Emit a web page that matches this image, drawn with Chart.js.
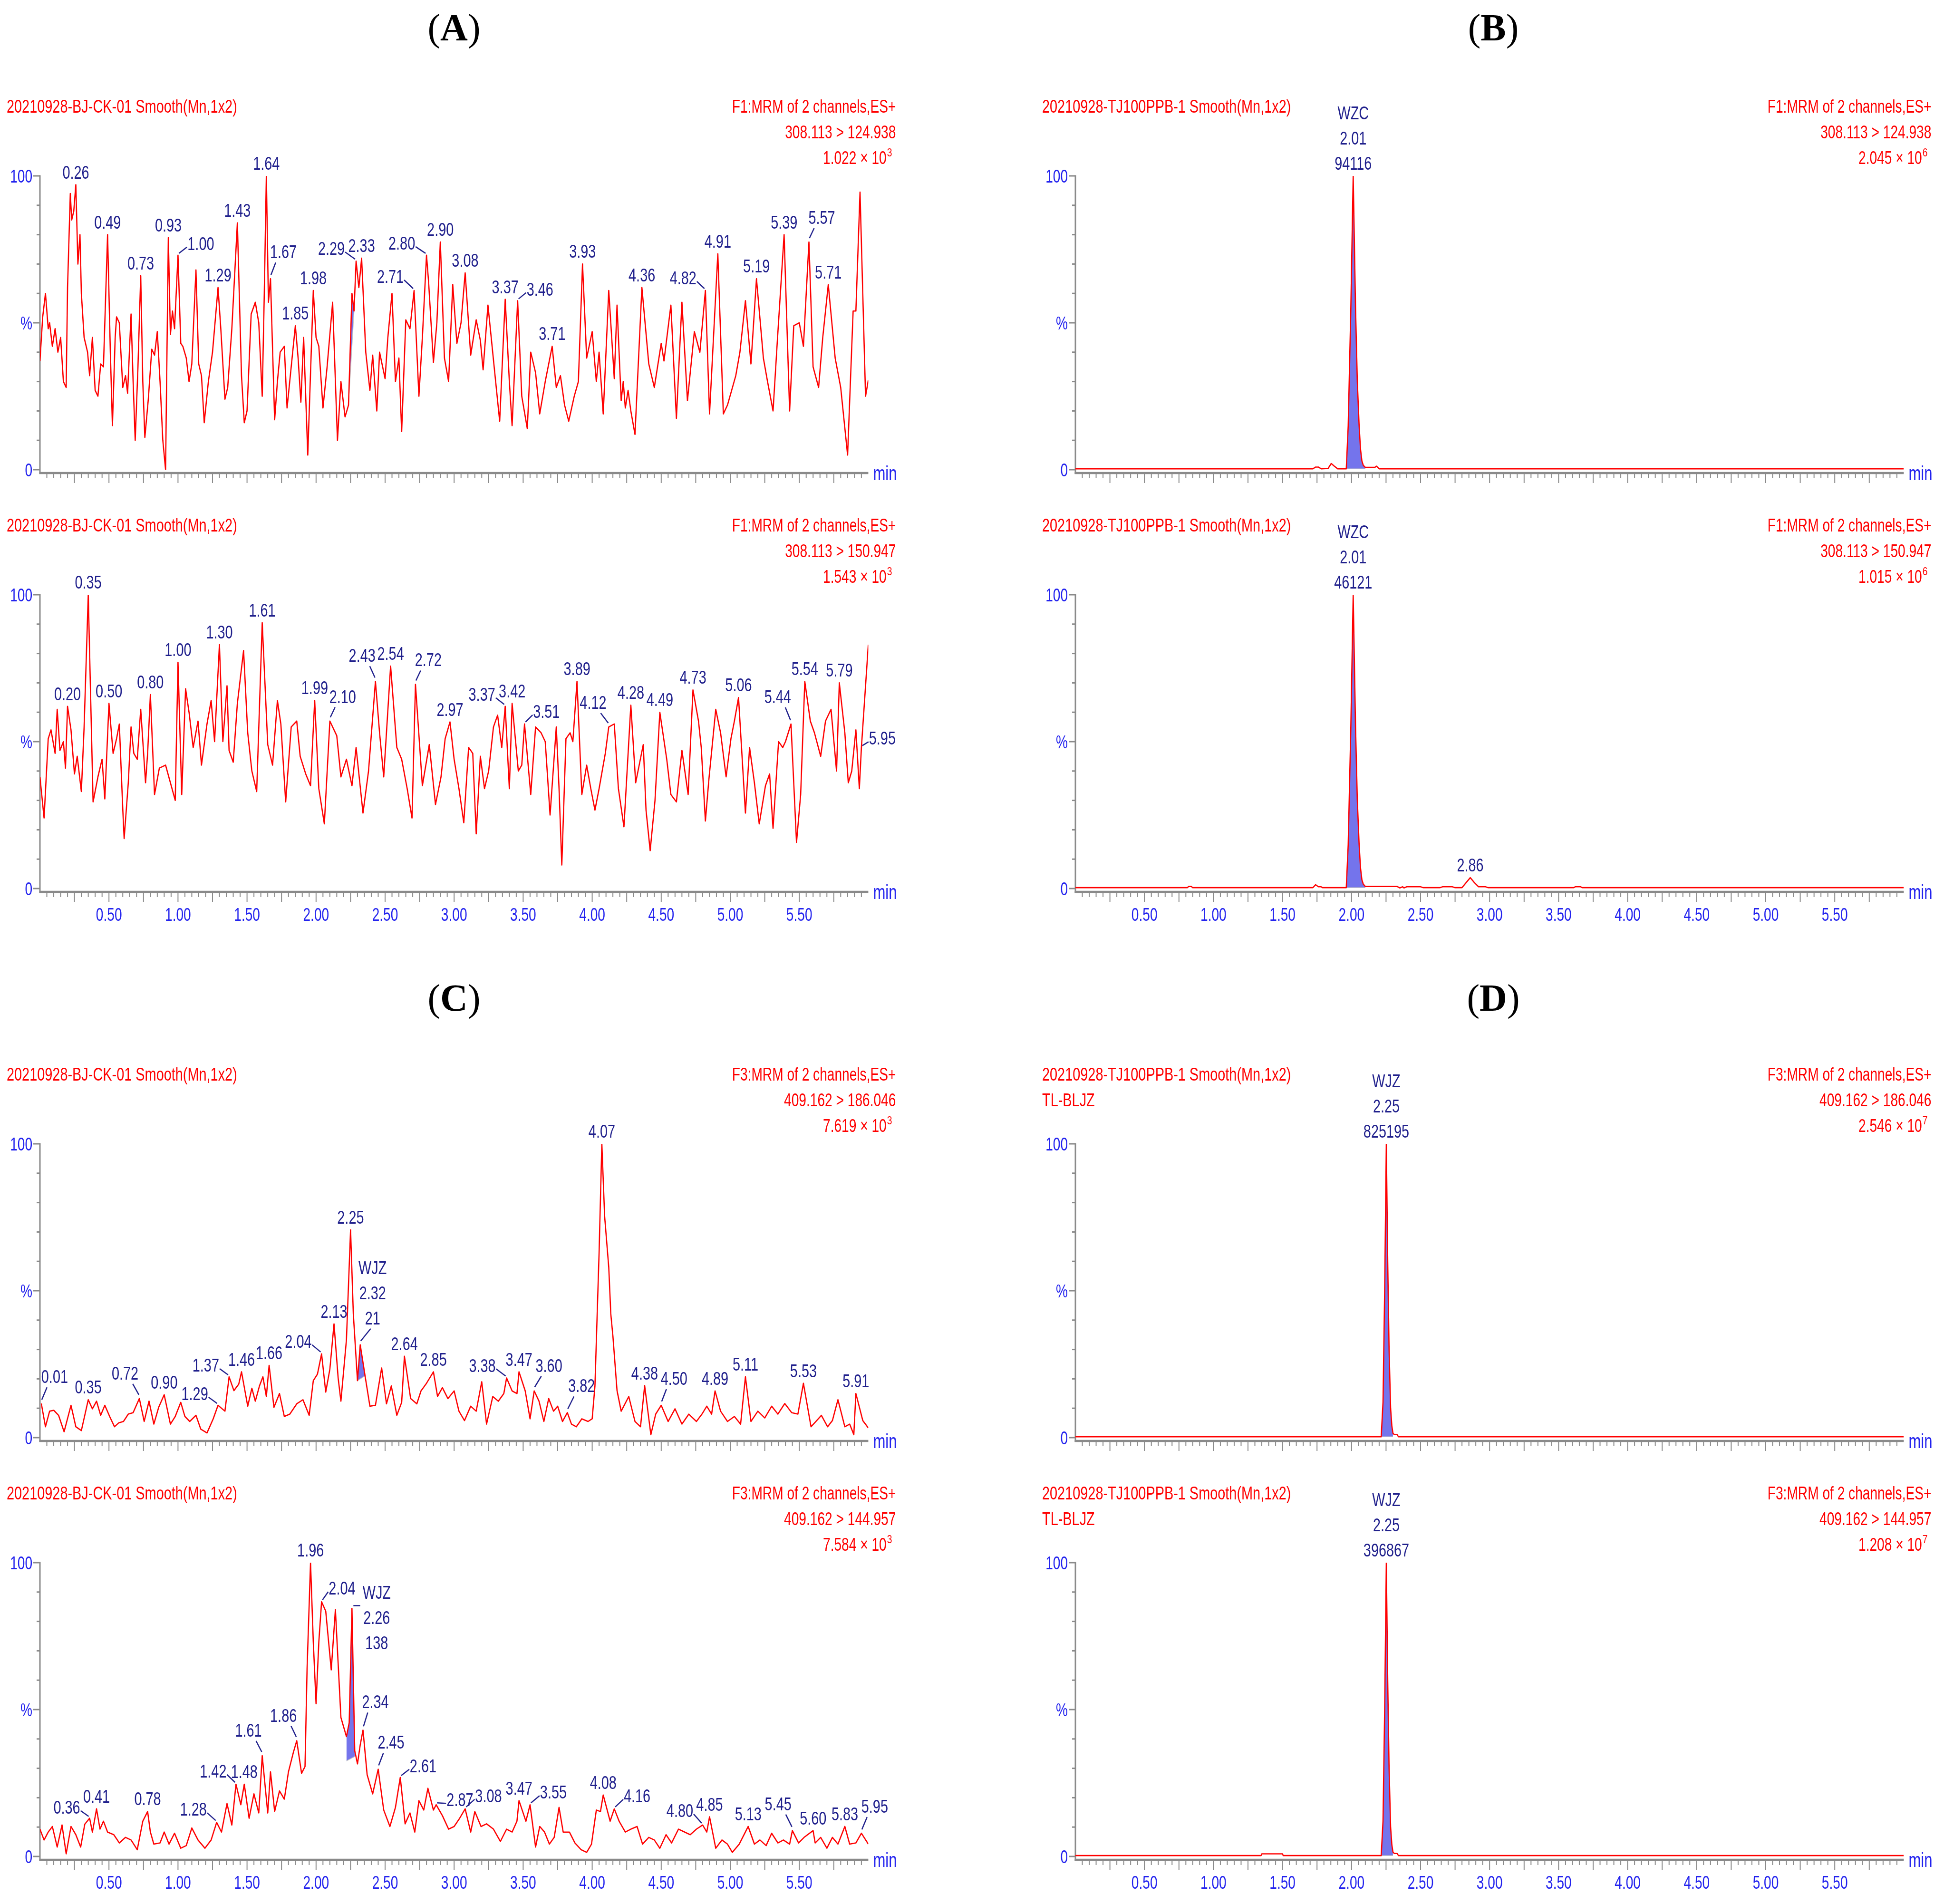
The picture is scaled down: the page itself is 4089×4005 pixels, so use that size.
<!DOCTYPE html>
<html>
<head>
<meta charset="utf-8">
<title>MRM chromatograms</title>
<style>
  html, body { margin: 0; padding: 0; background: #fff; }
  #page { position: relative; width: 4089px; height: 4005px; overflow: hidden; background: #fff; }
  #page canvas { position: absolute; }
  .ttl { position: absolute; width: 300px; text-align: center; font-family: 'Liberation Serif', 'Times New Roman', serif; font-size: 80px; line-height: 80px; color: #000; }
</style>
<script src="https://cdn.jsdelivr.net/npm/chart.js@4.4.1/dist/chart.umd.min.js"></script>
</head>
<body>
<div id="page">
  <div class="ttl" style="left:805px;top:18px">(<b>A</b>)</div>
  <div class="ttl" style="left:2991px;top:18px">(<b>B</b>)</div>
  <div class="ttl" style="left:805px;top:2059px">(<b>C</b>)</div>
  <div class="ttl" style="left:2991px;top:2059px">(<b>D</b>)</div>
</div>
<script>
'use strict'

// ---- data: [time (min), intensity (%)] ----
const a1Trace = [
  [0, 37], [0.02, 52], [0.04, 60], [0.06, 48], [0.07, 50], [0.09, 42], [0.11, 48], [0.13, 40], [0.15, 45], [0.17, 30],
  [0.19, 28], [0.2, 62], [0.22, 94], [0.23, 85], [0.245, 88], [0.26, 97], [0.275, 70], [0.29, 80], [0.3, 60], [0.32, 45],
  [0.345, 40], [0.36, 32], [0.38, 45], [0.4, 27], [0.42, 25], [0.44, 36], [0.46, 35], [0.49, 80], [0.51, 40], [0.525, 15],
  [0.545, 45], [0.555, 52], [0.575, 50], [0.6, 28], [0.62, 32], [0.635, 26], [0.66, 53], [0.675, 30], [0.69, 10], [0.71, 35],
  [0.73, 66], [0.745, 30], [0.76, 11], [0.785, 24], [0.81, 41], [0.83, 39], [0.85, 47], [0.87, 30], [0.89, 10], [0.91, 0],
  [0.93, 79], [0.945, 46], [0.96, 54], [0.975, 48], [1.0, 73], [1.02, 43], [1.035, 42], [1.06, 38], [1.08, 30], [1.1, 36],
  [1.13, 68], [1.15, 36], [1.17, 32], [1.19, 16], [1.22, 30], [1.25, 40], [1.29, 62], [1.31, 48], [1.34, 24], [1.36, 28],
  [1.39, 48], [1.43, 84], [1.46, 32], [1.48, 16], [1.5, 20], [1.53, 53], [1.56, 57], [1.585, 50], [1.61, 25], [1.625, 60],
  [1.64, 100], [1.655, 57], [1.67, 65], [1.7, 17], [1.72, 30], [1.74, 40], [1.77, 42], [1.79, 21], [1.82, 35], [1.85, 49],
  [1.87, 38], [1.89, 23], [1.91, 45], [1.94, 5], [1.98, 61], [2.0, 45], [2.02, 42], [2.05, 21], [2.08, 35], [2.12, 57],
  [2.155, 10], [2.18, 30], [2.21, 18], [2.235, 22], [2.26, 60], [2.275, 54], [2.29, 71], [2.31, 62], [2.33, 72], [2.36, 40],
  [2.39, 27], [2.41, 39], [2.44, 20], [2.46, 40], [2.5, 31], [2.52, 45], [2.55, 60], [2.575, 30], [2.6, 38], [2.62, 13],
  [2.65, 51], [2.68, 48], [2.71, 61], [2.745, 25], [2.77, 45], [2.8, 73], [2.815, 64], [2.85, 36.5], [2.875, 50], [2.9, 77.5],
  [2.93, 38], [2.96, 30], [2.99, 63], [3.02, 43], [3.05, 50], [3.08, 67], [3.12, 39], [3.16, 51], [3.19, 44], [3.21, 34],
  [3.245, 56], [3.29, 35], [3.33, 16.5], [3.37, 58], [3.4, 30], [3.42, 15], [3.46, 57.5], [3.49, 25], [3.53, 14], [3.555, 40],
  [3.59, 33], [3.62, 19], [3.66, 30], [3.71, 42], [3.74, 28], [3.77, 32], [3.8, 22], [3.83, 16.5], [3.87, 25], [3.9, 30],
  [3.93, 70], [3.96, 38], [4.0, 47], [4.03, 30], [4.05, 40], [4.08, 19], [4.12, 61], [4.16, 31], [4.18, 56], [4.21, 23.5],
  [4.225, 30], [4.24, 21], [4.26, 27], [4.28, 20], [4.31, 12], [4.36, 62], [4.41, 36], [4.45, 28], [4.5, 43], [4.52, 37],
  [4.57, 56], [4.61, 17.5], [4.65, 57], [4.69, 23.5], [4.74, 47], [4.78, 40], [4.82, 61], [4.85, 19], [4.91, 73.5], [4.95, 19],
  [4.98, 22], [5.04, 32], [5.07, 40], [5.11, 57.5], [5.15, 36], [5.19, 65], [5.24, 38], [5.27, 30], [5.31, 20], [5.34, 43],
  [5.39, 80], [5.43, 20], [5.46, 49], [5.5, 50], [5.53, 42], [5.57, 77.5], [5.6, 35], [5.64, 28], [5.67, 45], [5.71, 63],
  [5.76, 38], [5.8, 28], [5.85, 5], [5.89, 54], [5.91, 54], [5.94, 94.5], [5.98, 25], [6.0, 30.5]
]
const a2Trace = [
  [0, 38], [0.03, 24], [0.06, 51], [0.08, 54], [0.11, 46], [0.125, 61], [0.145, 47], [0.17, 50], [0.185, 41], [0.2, 62],
  [0.225, 54], [0.25, 39], [0.27, 45], [0.3, 33], [0.32, 55], [0.35, 100], [0.385, 29.5], [0.42, 38], [0.45, 44], [0.47, 30.5],
  [0.5, 63], [0.53, 46], [0.555, 51], [0.575, 56], [0.6, 27], [0.61, 17], [0.64, 36], [0.66, 55], [0.68, 46], [0.705, 44],
  [0.73, 61], [0.765, 36], [0.78, 46], [0.8, 66], [0.83, 32], [0.865, 41], [0.91, 42], [0.98, 30], [1.0, 77], [1.027, 32],
  [1.055, 68], [1.08, 60], [1.11, 48], [1.145, 57], [1.17, 42], [1.21, 56], [1.24, 64], [1.265, 50], [1.3, 83], [1.325, 50],
  [1.355, 69], [1.37, 47], [1.4, 43], [1.43, 63], [1.475, 81], [1.505, 53], [1.535, 40], [1.57, 33], [1.61, 90.5], [1.65, 49],
  [1.685, 42], [1.72, 64], [1.745, 56], [1.78, 29.5], [1.82, 55], [1.86, 57], [1.885, 45], [1.925, 39], [1.96, 35], [1.99, 64],
  [2.02, 34], [2.06, 22], [2.1, 57], [2.15, 52], [2.18, 38], [2.22, 44], [2.26, 35], [2.29, 48], [2.34, 25.7], [2.38, 40],
  [2.43, 70.5], [2.46, 53], [2.49, 38], [2.54, 75.7], [2.585, 48], [2.62, 44], [2.66, 34], [2.695, 24], [2.72, 69.5], [2.77, 35],
  [2.82, 49], [2.865, 28.6], [2.905, 38], [2.935, 51], [2.97, 56.7], [3.0, 44], [3.035, 34], [3.07, 22.4], [3.105, 48], [3.135, 46],
  [3.16, 18.6], [3.19, 45], [3.22, 34], [3.25, 40], [3.285, 55], [3.315, 59], [3.345, 48], [3.37, 62], [3.4, 34], [3.42, 63],
  [3.465, 40], [3.49, 42], [3.51, 56], [3.555, 32], [3.59, 55], [3.63, 53], [3.66, 50], [3.695, 25], [3.74, 55], [3.76, 34],
  [3.78, 8], [3.81, 51], [3.84, 53], [3.86, 50], [3.89, 70.5], [3.925, 32], [3.96, 42], [3.99, 34], [4.02, 26.7], [4.05, 34],
  [4.095, 46], [4.12, 55], [4.16, 56], [4.19, 34], [4.23, 21], [4.28, 62.4], [4.315, 36], [4.37, 49], [4.39, 26.7], [4.42, 12.9],
  [4.455, 30], [4.49, 60], [4.54, 44], [4.57, 32], [4.61, 29.5], [4.65, 47], [4.695, 32], [4.73, 67.6], [4.77, 57], [4.79, 48],
  [4.82, 23], [4.845, 37], [4.895, 61], [4.93, 53], [4.97, 38], [5.005, 51], [5.03, 57], [5.06, 65], [5.11, 25.7], [5.14, 48],
  [5.175, 36], [5.21, 22], [5.255, 35], [5.285, 39], [5.31, 20.5], [5.35, 50], [5.38, 48], [5.4, 50], [5.44, 56], [5.48, 15.7],
  [5.51, 32], [5.54, 70.5], [5.58, 57], [5.61, 53], [5.655, 45], [5.69, 57], [5.73, 61], [5.77, 40], [5.79, 70], [5.83, 53],
  [5.855, 36], [5.88, 40], [5.91, 54], [5.935, 34], [5.95, 48], [6.0, 83]
]
const b1Trace = [
  [0, 0.3], [1.72, 0.3], [1.74, 0.9], [1.76, 0.9], [1.78, 0.3], [1.83, 0.4], [1.853, 2.1], [1.875, 1.2], [1.9, 0.3],
  [1.962, 0.3], [1.976, 15], [1.995, 55], [2.012, 100], [2.029, 55], [2.042, 30], [2.055, 15], [2.065, 7], [2.075, 3],
  [2.085, 1.5], [2.1, 0.8], [2.17, 0.8], [2.18, 1.2], [2.19, 0.8], [2.2, 0.3], [6.0, 0.3]
]
const b2Trace = [
  [0, 0.3], [0.81, 0.3], [0.82, 0.7], [0.84, 0.7], [0.85, 0.3], [1.72, 0.3], [1.74, 1.3], [1.76, 0.6], [1.78, 0.6], [1.79, 0.3],
  [1.962, 0.3], [1.976, 15], [1.995, 55], [2.012, 100], [2.029, 55], [2.042, 30], [2.055, 15], [2.065, 7], [2.075, 3],
  [2.085, 1.5], [2.1, 0.7], [2.33, 0.7], [2.35, 0.2], [2.37, 0.6], [2.38, 0.2], [2.4, 0.6], [2.5, 0.6], [2.52, 0.3],
  [2.64, 0.3], [2.66, 0.6], [2.73, 0.6], [2.75, 0.3], [2.8, 0.3], [2.83, 2], [2.86, 3.7], [2.89, 2], [2.92, 0.6], [2.97, 0.6],
  [2.99, 0.3], [3.61, 0.3], [3.62, 0.6], [3.66, 0.6], [3.67, 0.3], [6.0, 0.3]
]
const c1Trace = [
  [0.01, 11.6], [0.04, 3.7], [0.07, 9], [0.1, 9.3], [0.135, 7.6], [0.175, 2], [0.225, 11], [0.26, 3.7], [0.3, 2.4], [0.35, 12.9],
  [0.38, 9.8], [0.41, 12.4], [0.44, 7.6], [0.47, 11], [0.505, 7.2], [0.54, 3.7], [0.57, 5], [0.605, 5.5], [0.64, 8], [0.675, 8.5],
  [0.72, 13.3], [0.755, 5.5], [0.79, 12.4], [0.825, 4.6], [0.86, 10.3], [0.9, 14.6], [0.945, 4.6], [0.98, 7.2], [1.02, 12], [1.05, 7.2],
  [1.085, 5.5], [1.13, 7.6], [1.165, 2.9], [1.21, 1.6], [1.255, 6.4], [1.29, 11], [1.34, 9], [1.37, 20.7], [1.405, 16], [1.44, 18.2],
  [1.46, 22.4], [1.505, 10.7], [1.535, 16.8], [1.56, 12.4], [1.59, 17.6], [1.615, 20.7], [1.64, 14], [1.66, 24.6], [1.695, 10.3], [1.735, 15],
  [1.77, 7.2], [1.81, 8], [1.86, 11.5], [1.905, 12.9], [1.95, 7.6], [1.98, 19.4], [2.01, 21.6], [2.04, 28.5], [2.07, 15.5], [2.1, 23.3],
  [2.13, 38.7], [2.16, 20.3], [2.18, 12.4], [2.22, 33.3], [2.25, 70.7], [2.27, 42], [2.3, 19.4], [2.32, 31.6], [2.355, 21], [2.39, 10.7],
  [2.43, 11], [2.475, 23.7], [2.51, 11.5], [2.545, 17.6], [2.585, 7.6], [2.62, 12], [2.64, 27.7], [2.685, 13.3], [2.73, 11.5], [2.76, 15.9],
  [2.8, 18.5], [2.85, 22.4], [2.88, 14], [2.915, 17], [2.955, 13.3], [3.0, 15.9], [3.035, 9], [3.075, 5.8], [3.12, 10.7], [3.16, 9],
  [3.2, 19], [3.235, 4.6], [3.28, 14], [3.32, 12.4], [3.36, 15], [3.38, 20.3], [3.42, 15.9], [3.455, 15], [3.47, 22.4], [3.515, 15.9],
  [3.55, 6.4], [3.58, 15.9], [3.615, 12.4], [3.65, 5.5], [3.685, 13.3], [3.72, 9], [3.75, 10.7], [3.785, 5.5], [3.82, 8.5], [3.85, 4.6],
  [3.885, 3.7], [3.925, 6.4], [3.97, 5.5], [4.0, 6.4], [4.02, 17.6], [4.05, 62.9], [4.07, 100], [4.09, 75.4], [4.12, 58], [4.135, 42],
  [4.15, 34.6], [4.18, 16], [4.21, 9], [4.265, 14], [4.31, 5.5], [4.35, 3.7], [4.38, 17.7], [4.425, 1], [4.46, 8], [4.5, 11],
  [4.55, 5.5], [4.6, 9.8], [4.65, 4.6], [4.7, 8], [4.755, 5.5], [4.795, 8], [4.83, 10.7], [4.865, 8], [4.89, 15.9], [4.93, 9],
  [4.98, 5.5], [5.03, 7.2], [5.075, 4.6], [5.11, 20.7], [5.15, 5.5], [5.2, 9], [5.25, 6.7], [5.3, 10.7], [5.345, 8], [5.395, 11.6],
  [5.445, 8.5], [5.49, 8], [5.53, 18.5], [5.585, 3.7], [5.62, 5.5], [5.66, 7.6], [5.705, 3.7], [5.74, 5.8], [5.78, 12.9], [5.83, 3.7],
  [5.865, 4.6], [5.895, 1], [5.91, 15], [5.96, 5.8], [6.0, 3.3]
]
const c2Trace = [
  [0, 9.3], [0.03, 5.6], [0.06, 8.3], [0.09, 10.2], [0.125, 3.2], [0.16, 10.7], [0.19, 0.9], [0.225, 10.2], [0.26, 7.4], [0.295, 3.2],
  [0.325, 11], [0.36, 13], [0.38, 8.3], [0.41, 16.2], [0.435, 9.3], [0.46, 12], [0.49, 8.3], [0.535, 7.4], [0.575, 4.6], [0.62, 6.5],
  [0.66, 5.6], [0.705, 2.3], [0.745, 12], [0.78, 15.3], [0.8, 8.3], [0.825, 4.2], [0.87, 4.6], [0.9, 8.3], [0.935, 4.2], [0.975, 7.9],
  [1.02, 2.8], [1.06, 3.7], [1.1, 9.7], [1.145, 5.6], [1.195, 2.8], [1.24, 5.6], [1.28, 11.6], [1.315, 8.3], [1.355, 18], [1.39, 10.7],
  [1.42, 24.6], [1.455, 17.6], [1.48, 24.6], [1.515, 13], [1.55, 21.3], [1.585, 14.8], [1.61, 34.3], [1.65, 14.8], [1.67, 28.8], [1.7, 15.3],
  [1.735, 22.3], [1.77, 19.5], [1.8, 28.8], [1.835, 35.3], [1.86, 39.4], [1.895, 28.3], [1.92, 30.6], [1.935, 64], [1.96, 100], [1.98, 73],
  [2.0, 52], [2.02, 73], [2.04, 86.7], [2.07, 83.5], [2.11, 63.5], [2.14, 84], [2.18, 47.3], [2.22, 40.8], [2.24, 45.5], [2.26, 84.4],
  [2.28, 36], [2.3, 31.5], [2.32, 38], [2.34, 43], [2.37, 27.8], [2.41, 21.3], [2.45, 29.7], [2.49, 15.8], [2.535, 10.2], [2.575, 16.7],
  [2.61, 26.9], [2.645, 11.1], [2.68, 14.8], [2.715, 8.3], [2.745, 19], [2.78, 15.8], [2.81, 23.2], [2.85, 15.8], [2.87, 17.6], [2.915, 13.9],
  [2.96, 9.3], [3.0, 10.2], [3.04, 13], [3.08, 16.2], [3.12, 8.3], [3.15, 15.3], [3.195, 10.2], [3.235, 11.1], [3.285, 9.3], [3.335, 5.1],
  [3.38, 9.3], [3.42, 8.3], [3.455, 12], [3.47, 19], [3.52, 12], [3.55, 17.6], [3.59, 3.2], [3.62, 10.2], [3.655, 8.3], [3.69, 4.2],
  [3.725, 6.5], [3.76, 16.7], [3.79, 8.3], [3.835, 8.3], [3.875, 4.6], [3.92, 2.3], [3.96, 1.4], [3.995, 4.2], [4.03, 15.8], [4.06, 15.3],
  [4.08, 20.9], [4.13, 12], [4.16, 16.2], [4.195, 12], [4.24, 8.3], [4.28, 9.3], [4.325, 10.2], [4.365, 4.2], [4.41, 6.5], [4.45, 5.6],
  [4.49, 2.8], [4.535, 7.4], [4.575, 4.6], [4.625, 9.3], [4.67, 8.3], [4.71, 7.4], [4.755, 9.3], [4.8, 10.7], [4.83, 8.3], [4.85, 13.5],
  [4.895, 2.8], [4.94, 5.6], [4.98, 4.2], [5.015, 1.4], [5.065, 4.2], [5.13, 10.2], [5.175, 4.2], [5.215, 5.6], [5.26, 3.7], [5.3, 7.9],
  [5.345, 4.6], [5.385, 5.6], [5.43, 4.2], [5.45, 8.8], [5.495, 4.6], [5.535, 6.5], [5.6, 8.8], [5.615, 4.6], [5.655, 6.5], [5.7, 2.8],
  [5.74, 6.5], [5.78, 4.2], [5.83, 10.2], [5.865, 4.2], [5.91, 4.6], [5.95, 7.9], [6.0, 4.2]
]
const d1Trace = [
  [0, 0.3], [2.215, 0.3], [2.228, 12], [2.24, 50], [2.252, 100], [2.262, 60], [2.272, 30], [2.283, 10], [2.292, 4],
  [2.3, 1.5], [2.31, 1], [2.33, 1], [2.34, 0.3], [6.0, 0.3]
]
const d2Trace = [
  [0, 0.3], [1.345, 0.3], [1.35, 0.9], [1.5, 0.9], [1.505, 0.3], [2.215, 0.3], [2.228, 12], [2.24, 50], [2.252, 100],
  [2.262, 60], [2.272, 30], [2.283, 10], [2.292, 4], [2.3, 1.5], [2.31, 1], [2.33, 1], [2.34, 0.3], [6.0, 0.3]
]

// integrated areas: [start, end, baseline at start, baseline at end]
const a1Area = [2.235, 2.275, 22, 54]
const b1Area = [1.962, 2.1, 0.3, 0.3]
const b2Area = [1.962, 2.1, 0.3, 0.3]
const c1Area = [2.3, 2.355, 19.4, 21]
const c2Area = [2.22, 2.28, 32.5, 34]
const d1Area = [2.215, 2.3, 0.3, 0.3]
const d2Area = [2.215, 2.3, 0.3, 0.3]

// peak annotations: [retention time, text ('|' separates stacked lines)]
const a1Peaks = [
  [0.26, '0.26'], [0.49, '0.49'], [0.73, '0.73'], [0.93, '0.93'], [1.0, '1.00'], [1.29, '1.29'], [1.43, '1.43'],
  [1.64, '1.64'], [1.67, '1.67'], [1.85, '1.85'], [1.98, '1.98'], [2.29, '2.29'], [2.33, '2.33'], [2.71, '2.71'],
  [2.8, '2.80'], [2.9, '2.90'], [3.08, '3.08'], [3.37, '3.37'], [3.46, '3.46'], [3.71, '3.71'], [3.93, '3.93'],
  [4.36, '4.36'], [4.82, '4.82'], [4.91, '4.91'], [5.19, '5.19'], [5.39, '5.39'], [5.57, '5.57'], [5.71, '5.71']
]
const a2Peaks = [
  [0.2, '0.20'], [0.35, '0.35'], [0.5, '0.50'], [0.8, '0.80'], [1.0, '1.00'], [1.3, '1.30'], [1.61, '1.61'],
  [1.99, '1.99'], [2.1, '2.10'], [2.43, '2.43'], [2.54, '2.54'], [2.72, '2.72'], [2.97, '2.97'], [3.37, '3.37'],
  [3.42, '3.42'], [3.51, '3.51'], [3.89, '3.89'], [4.12, '4.12'], [4.28, '4.28'], [4.49, '4.49'], [4.73, '4.73'],
  [5.06, '5.06'], [5.44, '5.44'], [5.54, '5.54'], [5.79, '5.79'], [5.95, '5.95']
]
const b1Peaks = [[2.01, 'WZC|2.01|94116']]
const b2Peaks = [[2.01, 'WZC|2.01|46121'], [2.86, '2.86']]
const c1Peaks = [
  [0.01, '0.01'], [0.35, '0.35'], [0.72, '0.72'], [0.9, '0.90'], [1.29, '1.29'], [1.37, '1.37'], [1.46, '1.46'],
  [1.66, '1.66'], [2.04, '2.04'], [2.13, '2.13'], [2.25, '2.25'], [2.32, 'WJZ|2.32|21'], [2.64, '2.64'], [2.85, '2.85'],
  [3.38, '3.38'], [3.47, '3.47'], [3.6, '3.60'], [3.82, '3.82'], [4.07, '4.07'], [4.38, '4.38'], [4.5, '4.50'],
  [4.89, '4.89'], [5.11, '5.11'], [5.53, '5.53'], [5.91, '5.91']
]
const c2Peaks = [
  [0.36, '0.36'], [0.41, '0.41'], [0.78, '0.78'], [1.28, '1.28'], [1.42, '1.42'], [1.48, '1.48'], [1.61, '1.61'],
  [1.86, '1.86'], [1.96, '1.96'], [2.04, '2.04'], [2.26, 'WJZ|2.26|138'], [2.34, '2.34'], [2.45, '2.45'], [2.61, '2.61'],
  [2.87, '2.87'], [3.08, '3.08'], [3.47, '3.47'], [3.55, '3.55'], [4.08, '4.08'], [4.16, '4.16'], [4.8, '4.80'],
  [4.85, '4.85'], [5.13, '5.13'], [5.45, '5.45'], [5.6, '5.60'], [5.83, '5.83'], [5.95, '5.95']
]
const d1Peaks = [[2.25, 'WJZ|2.25|825195']]
const d2Peaks = [[2.25, 'WJZ|2.25|396867']]

const xTickLabels = ['0.50', '1.00', '1.50', '2.00', '2.50', '3.00', '3.50', '4.00', '4.50', '5.00', '5.50']

// label placement: [dx px, gap above apex px, mode]
const a1Nudge = { '1.00': [48, 11], '1.67': [27, 43], '2.29': [-52, 13], '2.71': [-50, 16], '2.80': [-52, 12], '3.46': [47, 11], '4.82': [-47, 13], '5.57': [27, 38] }
const a2Nudge = { '2.10': [27, 38], '2.43': [-28, 41], '2.72': [27, 38], '3.37': [-49, 12], '3.51': [46, 13], '4.12': [-33, 38], '5.44': [-28, 44], '5.95': [44, 6] }
const c1Nudge = { '0.01': [28, 43], '0.72': [-30, 40], '1.29': [-49, 11], '1.37': [-49, 11], '2.04': [-49, 13], 'WJZ|2.32|21': [26, 43], '3.38': [-51, 13], '3.60': [31, 40], '3.82': [30, 43], '4.50': [27, 43] }
const c2Nudge = {
  '0.36': [-48, 10], '1.28': [-49, 14], '1.42': [-48, 14], '1.61': [-29, 40], '1.86': [-28, 40], '2.04': [43, 15],
  'WJZ|2.26|138': [52, 20, 'down'], '2.34': [26, 46], '2.45': [27, 43], '2.61': [48, 11], '2.87': [50, -3], '3.08': [49, 14],
  '3.55': [49, 13], '4.16': [48, 14], '4.80': [-48, 17], '5.45': [-30, 43], '5.95': [28, 43]
}

const hdrBJ = '20210928-BJ-CK-01 Smooth(Mn,1x2)'
const hdrTJ = '20210928-TJ100PPB-1 Smooth(Mn,1x2)'

const panels = [
  { id: 'a1', left: 0, top: 200, trace: a1Trace, area: a1Area, peaks: a1Peaks, nudge: a1Nudge, head: [hdrBJ], right: ['F1:MRM of 2 channels,ES+', '308.113 > 124.938'], scale: ['1.022', '3'], xLabels: false },
  { id: 'a2', left: 0, top: 1081, trace: a2Trace, area: null, peaks: a2Peaks, nudge: a2Nudge, head: [hdrBJ], right: ['F1:MRM of 2 channels,ES+', '308.113 > 150.947'], scale: ['1.543', '3'], xLabels: true },
  { id: 'b1', left: 2178, top: 200, trace: b1Trace, area: b1Area, peaks: b1Peaks, nudge: {}, head: [hdrTJ], right: ['F1:MRM of 2 channels,ES+', '308.113 > 124.938'], scale: ['2.045', '6'], xLabels: false },
  { id: 'b2', left: 2178, top: 1081, trace: b2Trace, area: b2Area, peaks: b2Peaks, nudge: {}, head: [hdrTJ], right: ['F1:MRM of 2 channels,ES+', '308.113 > 150.947'], scale: ['1.015', '6'], xLabels: true },
  { id: 'c1', left: 0, top: 2236, trace: c1Trace, area: c1Area, peaks: c1Peaks, nudge: c1Nudge, head: [hdrBJ], right: ['F3:MRM of 2 channels,ES+', '409.162 > 186.046'], scale: ['7.619', '3'], xLabels: false },
  { id: 'c2', left: 0, top: 3117, trace: c2Trace, area: c2Area, peaks: c2Peaks, nudge: c2Nudge, head: [hdrBJ], right: ['F3:MRM of 2 channels,ES+', '409.162 > 144.957'], scale: ['7.584', '3'], xLabels: true },
  { id: 'd1', left: 2178, top: 2236, trace: d1Trace, area: d1Area, peaks: d1Peaks, nudge: {}, head: [hdrTJ, 'TL-BLJZ'], right: ['F3:MRM of 2 channels,ES+', '409.162 > 186.046'], scale: ['2.546', '7'], xLabels: false },
  { id: 'd2', left: 2178, top: 3117, trace: d2Trace, area: d2Area, peaks: d2Peaks, nudge: {}, head: [hdrTJ, 'TL-BLJZ'], right: ['F3:MRM of 2 channels,ES+', '409.162 > 144.957'], scale: ['1.208', '7'], xLabels: true }
]

const RED = '#ff0000'
const NAVY = '#20208c'
const BLUE = '#2323ee'
const GRAY = '#8a8a8a'
const AREA = '#7474ec'
const FONT = '"Liberation Sans", Arial, sans-serif'
const LINE_H = 53

const CW = 1960
const CH = 880
const PAD = { left: 84, right: 133.6, top: 170, bottom: 92 }

const panelById = {}

function textW(ctx, s, size, sx) {
  ctx.save()
  ctx.font = size + 'px ' + FONT
  const w = ctx.measureText(s).width * sx
  ctx.restore()
  return w
}

// draws horizontally condensed text, like the instrument software output
function text(ctx, s, x, y, size, color, align, sx) {
  const w = textW(ctx, s, size, sx)
  const left = align === 'right' ? x - w : align === 'center' ? x - w / 2 : x
  ctx.save()
  ctx.font = size + 'px ' + FONT
  ctx.fillStyle = color
  ctx.textAlign = 'left'
  ctx.textBaseline = 'alphabetic'
  ctx.translate(left, y)
  ctx.scale(sx, 1)
  ctx.fillText(s, 0, 0)
  ctx.restore()
  return w
}

function seg(ctx, x1, y1, x2, y2) {
  ctx.beginPath()
  ctx.moveTo(x1, y1)
  ctx.lineTo(x2, y2)
  ctx.stroke()
}

function apexOf(trace, t) {
  let best = null
  trace.forEach((pt) => {
    if (Math.abs(pt[0] - t) <= 0.0201 && (!best || pt[1] > best[1])) best = pt
  })
  return best
}

function drawFrame(chart) {
  const { ctx, scales: { x, y } } = chart
  const x0 = x.getPixelForValue(0)
  const x6 = x.getPixelForValue(6)
  const y0 = y.getPixelForValue(0)
  const y100 = y.getPixelForValue(100)

  ctx.save()
  ctx.strokeStyle = GRAY
  ctx.lineCap = 'butt'
  ctx.lineWidth = 3
  seg(ctx, x0, y100 - 1.5, x0, y0 + 9)
  for (let v = 0; v <= 100; v += 10) {
    const py = y.getPixelForValue(v)
    seg(ctx, x0 - (v % 50 === 0 ? 14 : 7), py, x0, py)
  }
  ctx.lineWidth = 4.5
  seg(ctx, x0 - 1.5, y0 + 7, x6, y0 + 7)
  ctx.lineWidth = 2
  for (let i = 1; i < 120; i++) {
    const px = x.getPixelForValue(i * 0.05)
    seg(ctx, px, y0 + 9, px, y0 + 9 + (i % 5 === 0 ? 19 : 9))
  }
  ctx.restore()
}

function drawNotes(chart) {
  const p = panelById[chart.canvas.id]
  const { ctx, chartArea, scales: { x, y } } = chart
  const x0 = x.getPixelForValue(0)
  const x6 = x.getPixelForValue(6)
  const y0 = y.getPixelForValue(0)
  const top = chartArea.top
  const rightEdge = x6 + 58

  // headers
  p.head.forEach((s, i) => text(ctx, s, 14, top - 133 + i * 54, 38, RED, 'left', 0.76))
  p.right.forEach((s, i) => text(ctx, s, rightEdge, top - 133 + i * 54, 38, RED, 'right', 0.74))
  const supW = text(ctx, p.scale[1], rightEdge - 8, top - 41, 24, RED, 'right', 0.8)
  text(ctx, p.scale[0] + ' \u00d7 10', rightEdge - 9 - supW, top - 25, 38, RED, 'right', 0.74)

  // axis labels
  text(ctx, '100', x0 - 16, y.getPixelForValue(100) + 14, 39, BLUE, 'right', 0.72)
  text(ctx, '%', x0 - 16, y.getPixelForValue(50) + 14, 39, BLUE, 'right', 0.72)
  text(ctx, '0', x0 - 16, y0 + 14, 39, BLUE, 'right', 0.72)
  text(ctx, 'min', x6 + 10, y0 + 22, 42, BLUE, 'left', 0.74)
  if (p.xLabels) {
    xTickLabels.forEach((s) => text(ctx, s, x.getPixelForValue(parseFloat(s)), y0 + 68, 39, BLUE, 'center', 0.72))
  }

  // peak annotations
  ctx.save()
  ctx.strokeStyle = NAVY
  ctx.lineWidth = 2.5
  p.peaks.forEach(([t, label]) => {
    const apex = apexOf(p.trace, t)
    if (!apex) return
    const ax = x.getPixelForValue(apex[0])
    const ay = y.getPixelForValue(apex[1])
    const lines = label.split('|')
    const n = p.nudge[label] || [0, 13]
    const dx = n[0]
    const up = n[1]
    const down = n[2] === 'down'
    const cx = ax + dx
    const base = lines.map((s, i) => down ? ay - up + i * LINE_H : ay - up - (lines.length - 1 - i) * LINE_H)
    lines.forEach((s, i) => text(ctx, s, cx, base[i], 39, NAVY, 'center', 0.74))
    if (dx !== 0) {
      const sg = Math.sign(dx)
      if (down) {
        const w0 = textW(ctx, lines[0], 39, 0.74)
        const ly = base[0] + 14
        seg(ctx, ax + sg * 3, ly, cx - sg * (w0 / 2 + 5), ly)
      } else {
        const last = base[base.length - 1]
        const w = textW(ctx, lines[lines.length - 1], 39, 0.74)
        const edge = cx - sg * w / 2
        if (up > 25) seg(ctx, ax + sg * 1, ay - 8, edge + sg * 12, last + 9)
        else seg(ctx, ax + sg * 2, ay - 4, edge - sg * 1, last - 6)
      }
    }
  })
  ctx.restore()
}

const chromPlugin = {
  id: 'chrom',
  beforeDatasetsDraw(chart) {
    drawFrame(chart)
  },
  afterDatasetsDraw(chart) {
    drawNotes(chart)
  }
}

function buildDatasets(p) {
  const ds = [{
    data: p.trace,
    borderColor: RED,
    borderWidth: 2.6,
    fill: false,
    order: 0
  }]
  if (p.area) {
    const [t0, t1, b0, b1] = p.area
    ds.push({
      data: p.trace.filter((pt) => pt[0] >= t0 - 1e-9 && pt[0] <= t1 + 1e-9),
      borderWidth: 0,
      borderColor: 'rgba(0,0,0,0)',
      backgroundColor: AREA,
      fill: '+1',
      order: 2
    })
    ds.push({
      data: [[t0, b0], [t1, b1]],
      borderWidth: 1.5,
      borderColor: '#c4c4c4',
      fill: false,
      order: 1
    })
  }
  return ds
}

const page = document.getElementById('page')

panels.forEach((p) => {
  const cv = document.createElement('canvas')
  cv.id = p.id
  cv.width = CW
  cv.height = CH
  cv.style.left = p.left + 'px'
  cv.style.top = p.top + 'px'
  cv.style.width = CW + 'px'
  cv.style.height = CH + 'px'
  page.appendChild(cv)
  panelById[p.id] = p

  new Chart(cv, {
    type: 'line',
    data: { datasets: buildDatasets(p) },
    options: {
      responsive: false,
      animation: false,
      devicePixelRatio: 1,
      events: [],
      layout: { padding: PAD },
      scales: {
        x: { type: 'linear', min: 0, max: 6, display: false },
        y: { type: 'linear', min: 0, max: 100, display: false }
      },
      elements: {
        point: { radius: 0, hoverRadius: 0 },
        line: { tension: 0, borderJoinStyle: 'round' }
      },
      plugins: {
        legend: { display: false },
        tooltip: { enabled: false }
      }
    },
    plugins: [chromPlugin]
  })
})
</script>
</body>
</html>
